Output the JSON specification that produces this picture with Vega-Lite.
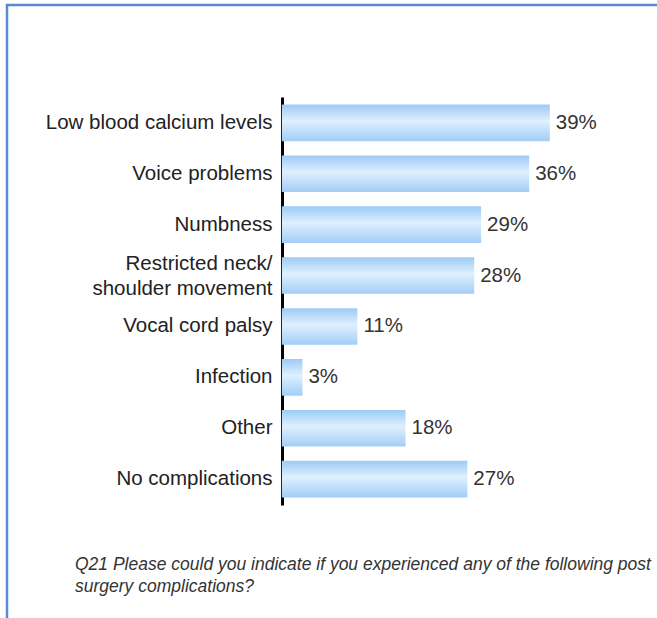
{
  "$schema": "https://vega.github.io/schema/vega-lite/v6.json",
  "width": 655,
  "height": 620,
  "autosize": {"type": "none"},
  "padding": {"left": 7, "top": 5, "right": -5, "bottom": -7},
  "background": "white",
  "config": {
    "view": {"stroke": "#5a8ad3", "strokeWidth": 2.5},
    "font": "Liberation Sans"
  },
  "title": {
    "text": ["Q21 Please could you indicate if you experienced any of the following post", "surgery complications?"],
    "orient": "bottom",
    "anchor": "start",
    "offset": -69,
    "dx": 68,
    "fontSize": 17.5,
    "fontStyle": "italic",
    "fontWeight": "normal",
    "color": "#333333",
    "lineHeight": 22
  },
  "data": {
    "values": [
      {"cat": "Low blood calcium levels", "pct": 39},
      {"cat": "Voice problems", "pct": 36},
      {"cat": "Numbness", "pct": 29},
      {"cat": "Restricted neck/|shoulder movement", "pct": 28},
      {"cat": "Vocal cord palsy", "pct": 11},
      {"cat": "Infection", "pct": 3},
      {"cat": "Other", "pct": 18},
      {"cat": "No complications", "pct": 27}
    ]
  },
  "encoding": {
    "y": {
      "field": "cat",
      "type": "nominal",
      "sort": null,
      "scale": {"paddingInner": 0.28, "paddingOuter": 0.148, "range": [92, 500]},
      "axis": {
        "title": null,
        "orient": "left",
        "offset": -275,
        "domain": true,
        "domainColor": "black",
        "domainWidth": 3,
        "ticks": false,
        "tickSize": 0,
        "labelPadding": 10,
        "labelFontSize": 20.5,
        "labelColor": "#222222",
        "labelExpr": "split(datum.label, '|')",
        "labelOffset": {"condition": {"test": "indexof(datum.value, '|') >= 0", "value": -12}, "value": 0},
        "labelLineHeight": 25,
        "labelLimit": 0
      }
    }
  },
  "layer": [
    {
      "mark": {
        "type": "bar",
        "color": {
          "gradient": "linear",
          "x1": 0, "y1": 0, "x2": 0, "y2": 1,
          "stops": [
            {"offset": 0, "color": "#9ccaf6"},
            {"offset": 0.45, "color": "#dff0fe"},
            {"offset": 1, "color": "#a2cdf6"}
          ]
        }
      },
      "encoding": {
        "x": {"field": "pct", "type": "quantitative", "scale": {"domain": [-40, 55.33], "nice": false}, "axis": null}
      }
    },
    {
      "mark": {"type": "text", "align": "left", "dx": 6, "fontSize": 20.5, "color": "#333333", "text": {"expr": "datum.pct + '%'"}},
      "encoding": {
        "x": {"field": "pct", "type": "quantitative"}
      }
    }
  ]
}
